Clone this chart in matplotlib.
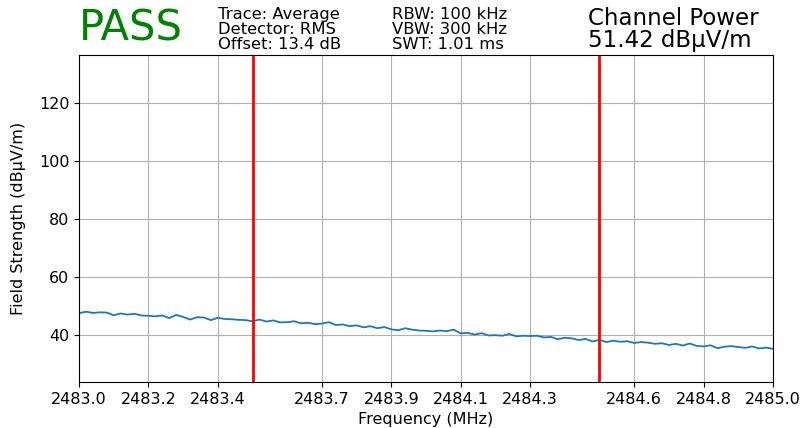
import numpy as np
import matplotlib
matplotlib.use('Agg')
import matplotlib.pyplot as plt

# trace, 2483.00 .. 2485.00 MHz in 0.02 MHz steps
freq_start = 2483.0
freq_stop = 2485.0
level = [
    47.4, 47.9, 47.5, 47.7, 47.6, 46.7, 47.3, 46.9, 47.2, 46.6,
    46.5, 46.3, 46.6, 45.7, 46.8, 46.1, 45.2, 46.0, 45.9, 45.0,
    45.8, 45.4, 45.3, 45.1, 45.0, 44.6, 45.2, 44.5, 44.9, 44.2,
    44.3, 44.6, 43.9, 44.1, 43.6, 43.8, 44.3, 43.3, 43.5, 42.9,
    43.2, 42.5, 42.9, 42.2, 42.6, 41.8, 41.5, 42.2, 41.7, 41.4,
    41.3, 41.1, 41.4, 41.2, 41.7, 40.4, 40.6, 40.0, 40.5, 39.7,
    39.8, 39.6, 40.2, 39.4, 39.6, 39.5, 39.6, 39.0, 39.2, 38.4,
    38.9, 38.7, 38.1, 38.5, 37.6, 38.2, 37.4, 37.9, 37.5, 37.7,
    37.1, 37.4, 37.2, 36.8, 37.0, 36.4, 36.8, 36.2, 36.9, 36.1,
    35.9, 36.3, 35.3, 35.8, 36.0, 35.7, 35.4, 35.9, 35.2, 35.5,
    35.1,
]
freq = np.linspace(freq_start, freq_stop, len(level))

channel_edges = [2483.5, 2484.5]
xticks = [2483.0, 2483.2, 2483.4, 2483.7, 2483.9, 2484.1, 2484.3, 2484.6, 2484.8, 2485.0]
yticks = [40, 60, 80, 100, 120]

fig = plt.figure(figsize=(8.03, 4.28), dpi=100)
ax = fig.add_axes([0.0984, 0.1075, 0.8642, 0.764])

ax.plot(freq, level, color='#1f77b4', linewidth=1.3)
for edge in channel_edges:
    ax.axvline(edge, color='red', linewidth=2)

ax.set_xlim(freq_start, freq_stop)
ax.set_ylim(23.6, 136.7)
ax.set_xticks(xticks)
ax.set_xticklabels([f'{t:.1f}' for t in xticks])
ax.set_yticks(yticks)
ax.tick_params(labelsize=11.5, pad=3.5)
ax.grid(True)
ax.set_xlabel('Frequency (MHz)', fontsize=11.5, labelpad=3.5)
ax.set_ylabel('Field Strength (dBµV/m)', fontsize=11.5, labelpad=9)

fig.text(0.098, 0.933, 'PASS', color='green', fontsize=30, va='center')
fig.text(0.271, 0.879, 'Trace: Average\nDetector: RMS\nOffset: 13.4 dB',
         fontsize=11.8, va='bottom', linespacing=0.98)
fig.text(0.488, 0.879, 'RBW: 100 kHz\nVBW: 300 kHz\nSWT: 1.01 ms',
         fontsize=11.8, va='bottom', linespacing=0.98)
fig.text(0.732, 0.879, 'Channel Power\n51.42 dBµV/m',
         fontsize=16.5, va='bottom', linespacing=0.95)

fig.savefig('out.png', dpi=100)
